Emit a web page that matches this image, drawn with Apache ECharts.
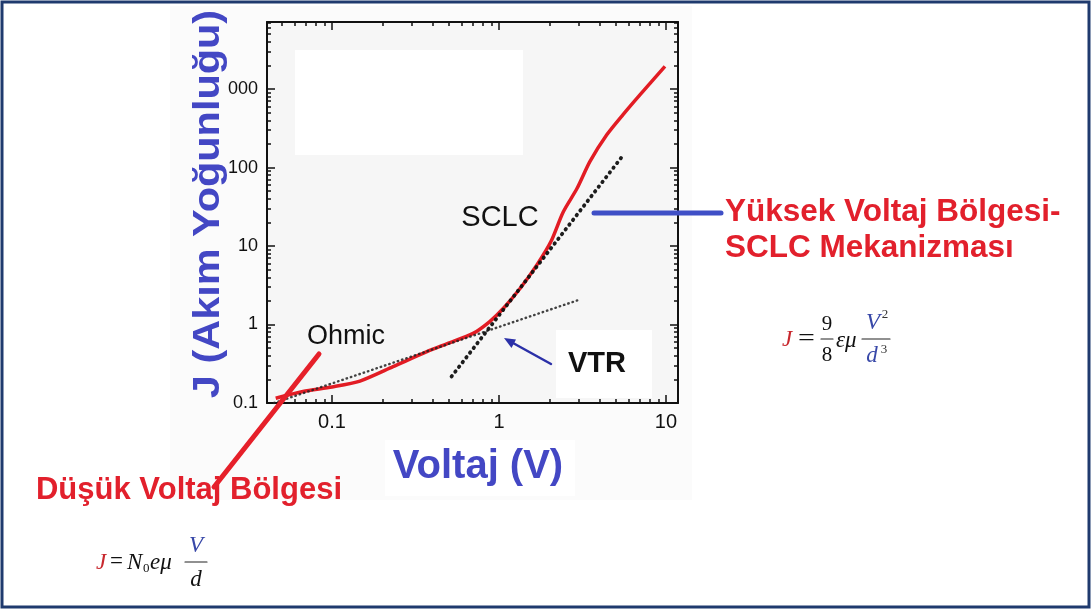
<!DOCTYPE html>
<html><head><meta charset="utf-8">
<script src="https://cdn.jsdelivr.net/npm/echarts@6/dist/echarts.min.js"></script>
<style>html,body{margin:0;padding:0;background:#fff}#c{width:1092px;height:612px}</style>
</head><body><div id="c"></div>
<script>
// ---- data ----
const voltage = [0.046, 0.067, 0.1, 0.147, 0.232, 0.37, 0.49, 0.70, 0.88, 1.06, 1.34, 1.69, 2.05, 2.42, 2.93, 3.5, 4.43, 5.53, 7.0, 9.86];
const current = [0.115, 0.14, 0.16, 0.19, 0.29, 0.45, 0.57, 0.77, 1.09, 1.6, 2.9, 5.8, 11.5, 27, 54, 119, 263, 473, 850, 1940];
const ohmicFitV = [0.045, 3.05];
const ohmicFitJ = [0.1, 2.08];
const sclcFitV = [0.52, 5.46];
const sclcFitJ = [0.218, 138];
const xTickValues = [0.1, 1, 10];
const xTickLabels = ['0.1', '1', '10'];
const yTickValues = [0.1, 1, 10, 100, 1000];
const yTickLabels = ['0.1', '1', '10', '100', '000'];
const xMinorTicks = [0.05, 0.06, 0.07, 0.08, 0.09, 0.2, 0.3, 0.4, 0.5, 0.6, 0.7, 0.8, 0.9, 2, 3, 4, 5, 6, 7, 8, 9];
const yMinorTicks = [0.2, 0.3, 0.4, 0.5, 0.6, 0.7, 0.8, 0.9, 2, 3, 4, 5, 6, 7, 8, 9, 20, 30, 40, 50, 60, 70, 80, 90, 200, 300, 400, 500, 600, 700, 800, 900, 2000, 3000, 4000, 5000, 6000, 7000];
const xRange = [0.0408, 11.8];
const yRange = [0.1, 7150];

const SANS = '"Liberation Sans", Arial, sans-serif';
const SERIF = '"Liberation Serif", "Times New Roman", serif';

function labelFor(values, labels) {
  return function (v) {
    const i = values.findIndex(t => Math.abs(Math.log10(t) - Math.log10(v)) < 1e-6);
    return i >= 0 ? labels[i] : '';
  };
}
function logAxis(pos, range, major, ticks, labels, showLabel, fontSize) {
  return {
    type: 'log', position: pos, min: range[0], max: range[1], gridIndex: 0,
    axisLine: { show: major, lineStyle: { color: '#111', width: 2 } },
    axisTick: { show: true, inside: true, length: major ? 8 : 4, customValues: ticks,
      lineStyle: { color: '#111', width: 1.5 } },
    axisLabel: { show: showLabel, customValues: ticks, formatter: labelFor(ticks, labels || []),
      fontFamily: SANS, fontSize: fontSize || 20, color: '#111', margin: 9 },
    splitLine: { show: false }, minorTick: { show: false }
  };
}

const chart = echarts.init(document.getElementById('c'));
const T = (x, y, text, o, extra) => Object.assign({
  type: 'text', x: x, y: y, z: 20,
  style: Object.assign({ text: text, fill: '#111', font: '26px ' + SANS,
    align: 'left', textAlign: 'left', verticalAlign: 'middle', textVerticalAlign: 'middle' }, o || {})
}, extra || {});
const L = (x1, y1, x2, y2, color, w) => ({ type: 'line', z: 20,
  shape: { x1: x1, y1: y1, x2: x2, y2: y2 }, style: { stroke: color, lineWidth: w, lineCap: 'round' } });

chart.setOption({
  animation: false,
  backgroundColor: '#ffffff',
  grid: { left: 267, top: 22, width: 411, height: 381, show: true, backgroundColor: '#f6f6f6', borderWidth: 0 },
  xAxis: [
    logAxis('bottom', xRange, true, xTickValues, xTickLabels, true, 20),
    logAxis('top', xRange, true, xTickValues, xTickLabels, false),
    logAxis('top', xRange, false, xMinorTicks, [], false),
    logAxis('bottom', xRange, false, xMinorTicks, [], false)
  ],
  yAxis: [
    logAxis('left', yRange, true, yTickValues, yTickLabels, true, 18),
    logAxis('right', yRange, true, yTickValues, yTickLabels, false),
    logAxis('right', yRange, false, yMinorTicks, [], false),
    logAxis('left', yRange, false, yMinorTicks, [], false)
  ],
  series: [
    { type: 'line', name: 'J-V', xAxisIndex: 0, yAxisIndex: 0, showSymbol: false, smooth: 0.25, z: 4,
      data: voltage.map((v, i) => [v, current[i]]),
      lineStyle: { color: '#e21c24', width: 3.5 } },
    { type: 'line', name: 'Ohmic', xAxisIndex: 0, yAxisIndex: 0, showSymbol: false, z: 5,
      data: ohmicFitV.map((v, i) => [v, ohmicFitJ[i]]),
      lineStyle: { color: '#222', width: 2.4, type: [0.5, 4], cap: 'round', opacity: 0.85 } },
    { type: 'line', name: 'SCLC', xAxisIndex: 0, yAxisIndex: 0, showSymbol: false, z: 5,
      data: sclcFitV.map((v, i) => [v, sclcFitJ[i]]),
      lineStyle: { color: '#111', width: 3.8, type: [0.5, 5.5], cap: 'round', opacity: 0.95 } }
  ],
  graphic: [
    { type: 'rect', z: -10, shape: { x: 170, y: 6, width: 522, height: 494 }, style: { fill: '#fbfbfb' } },
    { type: 'rect', z: 1, shape: { x: 295, y: 50, width: 228, height: 105 }, style: { fill: '#ffffff' } },
    { type: 'rect', z: 1, shape: { x: 556, y: 330, width: 96, height: 68 }, style: { fill: '#ffffff' } },
    { type: 'rect', z: -5, shape: { x: 385, y: 440, width: 190, height: 56 }, style: { fill: '#ffffff' } },
    // axis titles
    { type: 'text', x: 209, y: 204, rotation: Math.PI / 2, scaleX: 1.12, z: 20,
      style: { text: 'J (Akım Yoğunluğu)', fill: '#4347c4', font: 'bold 37px ' + SANS,
        align: 'center', textAlign: 'center', verticalAlign: 'middle', textVerticalAlign: 'middle' } },
    T(478, 467, 'Voltaj (V)', { fill: '#4347c4', font: 'bold 40px ' + SANS, align: 'center', textAlign: 'center' }),
    // labels in plot
    T(346, 337, 'Ohmic', { font: '27px ' + SANS, align: 'center', textAlign: 'center' }),
    T(500, 218, 'SCLC', { font: '29px ' + SANS, align: 'center', textAlign: 'center' }),
    T(597, 364, 'VTR', { font: 'bold 29px ' + SANS, align: 'center', textAlign: 'center' }),
    // red/blue annotations
    T(189, 490, 'Düşük Voltaj Bölgesi', { fill: '#e2202c', font: 'bold 31px ' + SANS, align: 'center', textAlign: 'center' }),
    T(725, 212, 'Yüksek Voltaj Bölgesi-', { fill: '#e2202c', font: 'bold 31.5px ' + SANS }),
    T(725, 248, 'SCLC Mekanizması', { fill: '#e2202c', font: 'bold 31.5px ' + SANS }),
    L(214, 487, 319, 354, '#e6202a', 5),
    L(594, 213, 721, 213, '#3f4fc6', 5),
    L(551, 364, 513, 343, '#2b30a8', 2.5),
    { type: 'polygon', z: 20, shape: { points: [[504, 338], [516, 339.5], [511.5, 348]] }, style: { fill: '#2b30a8' } },
    // formula: J = 9/8 eps mu V^2/d^3
    T(782, 340, 'J', { font: 'italic 23px ' + SERIF, fill: '#c8282e' }),
    T(798, 339, '=', { font: '23px ' + SERIF }, { scaleX: 1.3 }),
    T(827, 324, '9', { font: '21px ' + SERIF, align: 'center', textAlign: 'center' }),
    L(821, 339, 833, 339, '#222', 1.2),
    T(827, 355, '8', { font: '21px ' + SERIF, align: 'center', textAlign: 'center' }),
    T(836, 341, 'εμ', { font: 'italic 23px ' + SERIF }),
    T(873, 323, 'V', { font: 'italic 23px ' + SERIF, fill: '#3848a8', align: 'center', textAlign: 'center' }),
    T(885, 315, '2', { font: '13px ' + SERIF, fill: '#333', align: 'center', textAlign: 'center' }),
    L(862, 339, 890, 339, '#222', 1.2),
    T(872, 356, 'd', { font: 'italic 23px ' + SERIF, fill: '#3848a8', align: 'center', textAlign: 'center' }),
    T(884, 350, '3', { font: '13px ' + SERIF, fill: '#333', align: 'center', textAlign: 'center' }),
    // formula: J = N0 e mu V/d
    T(96, 563, 'J', { font: 'italic 23px ' + SERIF, fill: '#c8282e' }),
    T(110, 562, '=', { font: '23px ' + SERIF }),
    T(127, 563, 'N', { font: 'italic 23px ' + SERIF }),
    T(143, 569, '0', { font: '13px ' + SERIF }),
    T(150, 563, 'eμ', { font: 'italic 23px ' + SERIF }),
    T(196, 546, 'V', { font: 'italic 23px ' + SERIF, fill: '#3848a8', align: 'center', textAlign: 'center' }),
    L(185, 562, 207, 562, '#222', 1.2),
    T(196, 580, 'd', { font: 'italic 23px ' + SERIF, align: 'center', textAlign: 'center' }),
    // outer border
    { type: 'rect', z: 100, shape: { x: 2, y: 2, width: 1087, height: 605 },
      style: { fill: 'none', stroke: '#1f3a6e', lineWidth: 3 } }
  ]
});
</script></body></html>
